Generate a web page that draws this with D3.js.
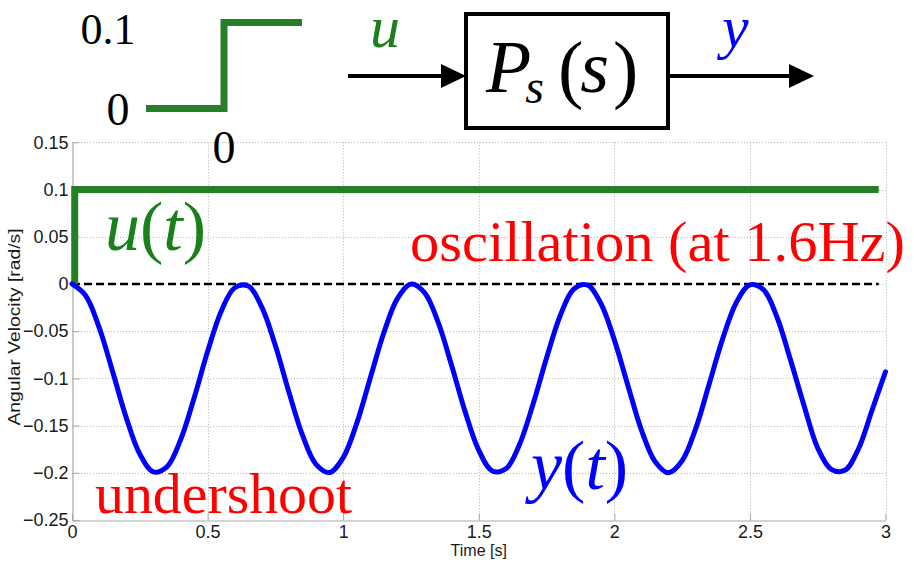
<!DOCTYPE html>
<html>
<head>
<meta charset="utf-8">
<script src="https://cdn.jsdelivr.net/npm/d3@7"></script>
<style>
  html, body { margin: 0; padding: 0; background: #fff; }
  svg { display: block; }
</style>
</head>
<body>
<svg id="chart" width="914" height="563"></svg>
<script>
// Axis ticks
const timeTicks = [0, 0.5, 1, 1.5, 2, 2.5, 3];
const velocityTicks = [-0.25, -0.2, -0.15, -0.1, -0.05, 0, 0.05, 0.1, 0.15];

// Measured plant response y(t) [rad/s] against time [s]
const responseTime = [
  0, 0.05, 0.10, 0.15, 0.20, 0.25, 0.30, 0.35, 0.40, 0.45,
  0.50, 0.55, 0.60, 0.65, 0.70, 0.75, 0.80, 0.85, 0.90, 0.95,
  1.00, 1.05, 1.10, 1.15, 1.20, 1.25, 1.30, 1.35, 1.40, 1.45,
  1.50, 1.55, 1.60, 1.65, 1.70, 1.75, 1.80, 1.85, 1.90, 1.95,
  2.00, 2.05, 2.10, 2.15, 2.20, 2.25, 2.30, 2.35, 2.40, 2.45,
  2.50, 2.55, 2.60, 2.65, 2.70, 2.75, 2.80, 2.85, 2.90, 2.95, 3.00
];
const responseValue = [
  0, -0.0122, -0.0460, -0.0929, -0.1416, -0.1801, -0.1990, -0.1937, -0.1654, -0.1211,
  -0.0716, -0.0291, -0.0040, -0.0023, -0.0246, -0.0653, -0.1146, -0.1602, -0.1911, -0.1997,
  -0.1839, -0.1476, -0.0996, -0.0517, -0.0156, -0.0002, -0.0093, -0.0405, -0.0863, -0.1355,
  -0.1760, -0.1981, -0.1958, -0.1702, -0.1275, -0.0785, -0.0340, -0.0056, -0.0011, -0.0204,
  -0.0592, -0.1075, -0.1548, -0.1880, -0.2000, -0.1873, -0.1533, -0.1058, -0.0576, -0.0196,
  -0.0009, -0.0061, -0.0353, -0.0809, -0.1292, -0.1737, -0.1963, -0.1974, -0.1748, -0.1340, -0.0930
];

// Step input u(t)
const stepTime = [0.01, 0.01, 2.975];
const stepValue = [0, 0.1, 0.1];

// Zero reference line
const zeroTime = [0, 2.975];
const zeroValue = [0, 0];

// Step icon in the block diagram (time relative to the step, level)
const iconTime = [-1, 0, 0, 1];
const iconLevel = [0, 0, 0.1, 0.1];

const svg = d3.select("#chart");

const x = d3.scaleLinear().domain([0, 3]).range([72, 885.5]);
const y = d3.scaleLinear().domain([-0.25, 0.15]).range([520, 142.3]);

const sans = "'Liberation Sans', Arial, Helvetica, sans-serif";
const serif = "'Liberation Serif', 'Times New Roman', serif";

// ---------- grid ----------
const grid = svg.append("g").attr("stroke", "#b4b4b4").attr("stroke-width", 1)
  .attr("stroke-dasharray", "1,2").attr("fill", "none");
grid.selectAll("line.v").data(timeTicks.slice(1)).join("line")
  .attr("x1", d => Math.round(x(d)) + 0.5).attr("x2", d => Math.round(x(d)) + 0.5)
  .attr("y1", y(0.15)).attr("y2", y(-0.25));
grid.selectAll("line.h").data(velocityTicks.slice(1)).join("line")
  .attr("y1", d => Math.round(y(d)) + 0.5).attr("y2", d => Math.round(y(d)) + 0.5)
  .attr("x1", x(0)).attr("x2", x(3));

// ---------- axes ----------
const xAxis = d3.axisBottom(x).tickValues(timeTicks).tickSizeInner(-7).tickSizeOuter(0)
  .tickPadding(4).tickFormat(d3.format("~g"));
const yAxis = d3.axisLeft(y).tickValues(velocityTicks).tickSizeInner(-7).tickSizeOuter(0)
  .tickPadding(4).tickFormat(d3.format("~g"));

const gx = svg.append("g").attr("transform", `translate(0,${Math.round(y(-0.25)) + 0.5})`).call(xAxis);
const gy = svg.append("g").attr("transform", `translate(${Math.round(x(0)) + 0.5},0)`).call(yAxis);
[gx, gy].forEach(g => {
  g.select(".domain").attr("stroke", "#a8a8a8").attr("stroke-width", 1.2);
  g.selectAll(".tick line").attr("stroke", "#a8a8a8");
  g.selectAll(".tick text").attr("fill", "#1a1a1a").style("font-family", sans).style("font-size", "18px");
});
gx.selectAll(".tick text").attr("dy", "0.75em");

// axis titles
svg.append("text").attr("x", x(1.5)).attr("y", 556).attr("text-anchor", "middle")
  .style("font-family", sans).style("font-size", "16px").attr("fill", "#1a1a1a").text("Time [s]");
svg.append("text").attr("transform", `translate(20,327) rotate(-90)`)
  .attr("text-anchor", "middle").style("font-family", sans).style("font-size", "16px")
  .attr("textLength", 197).attr("lengthAdjust", "spacingAndGlyphs")
  .attr("fill", "#1a1a1a").text("Angular Velocity [rad/s]");

// ---------- series ----------
const response = responseTime.map((t, i) => [t, responseValue[i]]);
const step = stepTime.map((t, i) => [t, stepValue[i]]);
const zero = zeroTime.map((t, i) => [t, zeroValue[i]]);

svg.append("path").datum(zero)
  .attr("d", d3.line().x(d => x(d[0])).y(d => y(d[1])))
  .attr("fill", "none").attr("stroke", "#000").attr("stroke-width", 2.4)
  .attr("stroke-dasharray", "8,4");

svg.append("path").datum(step)
  .attr("d", d3.line().x(d => x(d[0])).y(d => y(d[1])))
  .attr("fill", "none").attr("stroke", "#267f26").attr("stroke-width", 7)
  .attr("stroke-linejoin", "miter");

svg.append("path").datum(response)
  .attr("d", d3.line().curve(d3.curveCatmullRom).x(d => x(d[0])).y(d => y(d[1])))
  .attr("fill", "none").attr("stroke", "#0000ff").attr("stroke-width", 5)
  .attr("stroke-linejoin", "round").attr("stroke-linecap", "round");

// ---------- annotations ----------
function mathLabel(xPos, yPos, size, color, parts) {
  const t = svg.append("text").attr("x", xPos).attr("y", yPos)
    .style("font-family", serif).style("font-size", size + "px").attr("fill", color);
  parts.forEach(([s, italic]) => t.append("tspan").style("font-style", italic ? "italic" : "normal").text(s));
  return t;
}
mathLabel(105, 250, 70, "#1a801a", [["u", true], ["(", false], ["t", true], [")", false]]);
mathLabel(531, 489, 70, "#0000ff", [["y", true], ["(", false], ["t", true], [")", false]]);

svg.append("text").attr("x", 410).attr("y", 261).style("font-family", serif)
  .style("font-size", "58px").attr("fill", "#ff0000").attr("textLength", 495)
  .attr("lengthAdjust", "spacingAndGlyphs").text("oscillation (at 1.6Hz)");
svg.append("text").attr("x", 95).attr("y", 513).style("font-family", serif)
  .style("font-size", "58px").attr("fill", "#ff0000").attr("textLength", 257)
  .attr("lengthAdjust", "spacingAndGlyphs").text("undershoot");

// ---------- block diagram ----------
const ix = d3.scaleLinear().domain([-1, 1]).range([146, 302]);
const iy = d3.scaleLinear().domain([0, 0.1]).range([108.5, 22.5]);
svg.append("path").datum(iconTime.map((t, i) => [t, iconLevel[i]]))
  .attr("d", d3.line().x(d => ix(d[0])).y(d => iy(d[1])))
  .attr("fill", "none").attr("stroke", "#267f26").attr("stroke-width", 7);

svg.append("text").attr("x", 108).attr("y", 44).attr("text-anchor", "middle")
  .style("font-family", serif).style("font-size", "44px").attr("fill", "#000").text("0.1");
svg.append("text").attr("x", 118).attr("y", 125).attr("text-anchor", "middle")
  .style("font-family", serif).style("font-size", "46px").attr("fill", "#000").text("0");
svg.append("text").attr("x", ix(0)).attr("y", 163).attr("text-anchor", "middle")
  .style("font-family", serif).style("font-size", "46px").attr("fill", "#000").text("0");

// arrows
function arrow(x1, x2, yy) {
  svg.append("line").attr("x1", x1).attr("x2", x2 - 20).attr("y1", yy).attr("y2", yy)
    .attr("stroke", "#000").attr("stroke-width", 4);
  svg.append("path").attr("d", `M${x2 - 25},${yy - 12} L${x2},${yy} L${x2 - 25},${yy + 12} Z`)
    .attr("fill", "#000");
}
arrow(348, 466, 76);
arrow(668, 814, 76);

svg.append("rect").attr("x", 466).attr("y", 14).attr("width", 202).attr("height", 114)
  .attr("fill", "none").attr("stroke", "#000").attr("stroke-width", 4);

mathLabel(370, 47, 60, "#1a801a", [["u", true]]);
mathLabel(722, 47, 60, "#0000ff", [["y", true]]);

// transfer function P_s(s), set as one text run
const tf = svg.append("text").attr("x", 486).attr("y", 92)
  .style("font-family", serif).style("font-size", "74px").attr("fill", "#000");
tf.append("tspan").style("font-style", "italic").text("P");
tf.append("tspan").style("font-style", "italic").style("font-size", "48px")
  .attr("dx", -6).attr("dy", 11).text("s");
tf.append("tspan").style("font-size", "76px").attr("dx", 14).attr("dy", -9).text("(");
tf.append("tspan").style("font-style", "italic").attr("dx", -3).attr("dy", -2).text("s");
tf.append("tspan").style("font-size", "76px").attr("dx", 4).attr("dy", 2).text(")");
</script>
</body>
</html>
